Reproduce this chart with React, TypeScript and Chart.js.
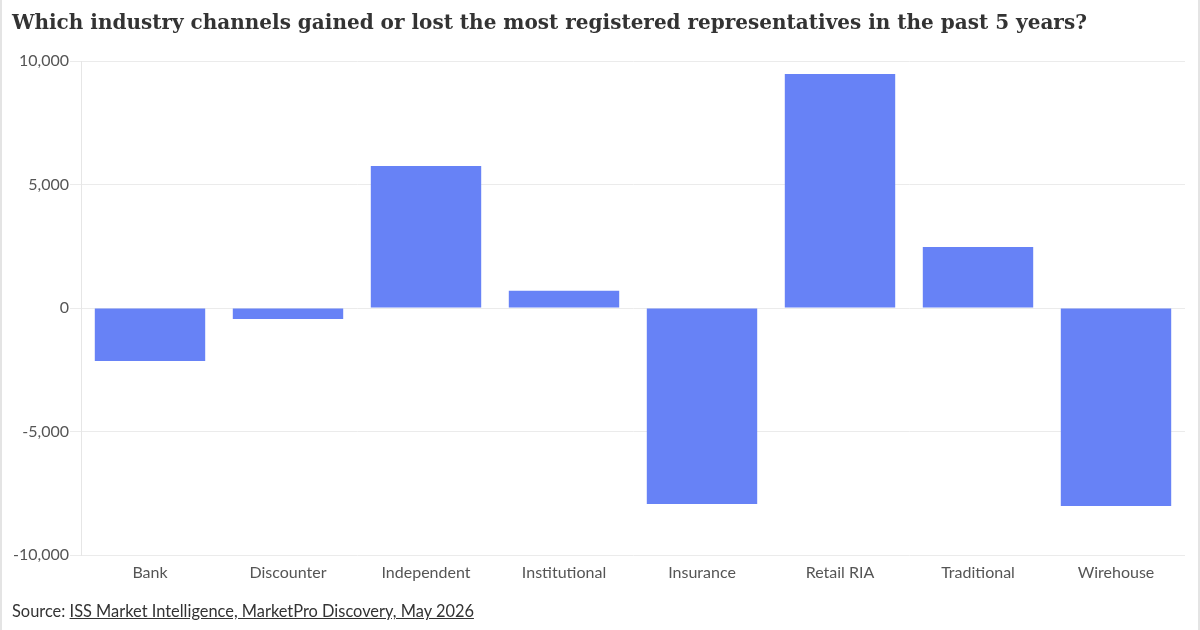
import React, { useEffect, useRef } from "react";
import { Chart, registerables } from "chart.js";

Chart.register(...registerables);

const categories = [
  "Bank",
  "Discounter",
  "Independent",
  "Institutional",
  "Insurance",
  "Retail RIA",
  "Traditional",
  "Wirehouse",
];
const repChange = [-2150, -450, 5750, 700, -7940, 9470, 2470, -8020];
const yTicks = [-10000, -5000, 0, 5000, 10000];

const titleText =
  "Which industry channels gained or lost the most registered representatives in the past 5 years?";
const sourceLabel = "Source: ";
const sourceLink = "ISS Market Intelligence, MarketPro Discovery, May 2026";

const BAR = "#6782f6";
const GRID = "#ebebeb";
const TICK = "#555555";

export default function App() {
  const canvasRef = useRef<HTMLCanvasElement | null>(null);

  useEffect(() => {
    document.body.style.margin = "0";
    const canvas = canvasRef.current;
    if (!canvas) return;
    const chart = new Chart(canvas, {
      type: "bar",
      data: {
        labels: categories,
        datasets: [
          {
            data: repChange,
            backgroundColor: BAR,
            borderWidth: 0,
            barPercentage: 0.8,
            categoryPercentage: 1,
          },
        ],
      },
      options: {
        animation: false,
        responsive: false,
        maintainAspectRatio: false,
        layout: { padding: { top: 61, right: 15, bottom: 45, left: 0 } },
        plugins: {
          legend: { display: false },
          tooltip: { enabled: false },
        },
        scales: {
          x: {
            grid: { display: false, drawTicks: false },
            border: { display: false },
            ticks: {
              color: TICK,
              padding: 8,
              font: { family: "Lato", size: 16 },
            },
            afterFit: (s: any) => {
              s.height = 30;
            },
          },
          y: {
            min: -10000,
            max: 10000,
            afterBuildTicks: (s: any) => {
              s.ticks = yTicks.map((v) => ({ value: v }));
            },
            grid: { color: GRID, tickLength: 11, drawTicks: true },
            border: { display: true, color: "#e6e6e6" },
            ticks: {
              color: TICK,
              padding: 1,
              font: { family: "Lato", size: 16 },
              callback: (v: any) => Number(v).toLocaleString("en-US"),
            },
            afterFit: (s: any) => {
              s.width = 81;
            },
          },
        },
      },
    });
    return () => chart.destroy();
  }, []);

  return (
    <div
      style={{
        position: "relative",
        width: 1200,
        height: 630,
        boxSizing: "border-box",
        borderLeft: "2px solid #e4e4e4",
        borderRight: "2px solid #e4e4e4",
        background: "#fff",
        overflow: "hidden",
      }}
    >
      <canvas
        ref={canvasRef}
        width={1200}
        height={630}
        style={{ position: "absolute", left: -2, top: 0, width: 1200, height: 630 }}
      />
      <div
        style={{
          position: "absolute",
          left: 10,
          top: 10,
          fontFamily: "'DejaVu Serif', serif",
          fontWeight: "bold",
          fontSize: 20,
          color: "#333333",
          whiteSpace: "nowrap",
        }}
      >
        {titleText}
      </div>
      <div
        style={{
          position: "absolute",
          left: 10,
          top: 601,
          fontFamily: "Lato, sans-serif",
          fontSize: 16.4,
          color: "#333333",
          whiteSpace: "nowrap",
        }}
      >
        {sourceLabel}
        <span style={{ textDecoration: "underline" }}>{sourceLink}</span>
      </div>
    </div>
  );
}
